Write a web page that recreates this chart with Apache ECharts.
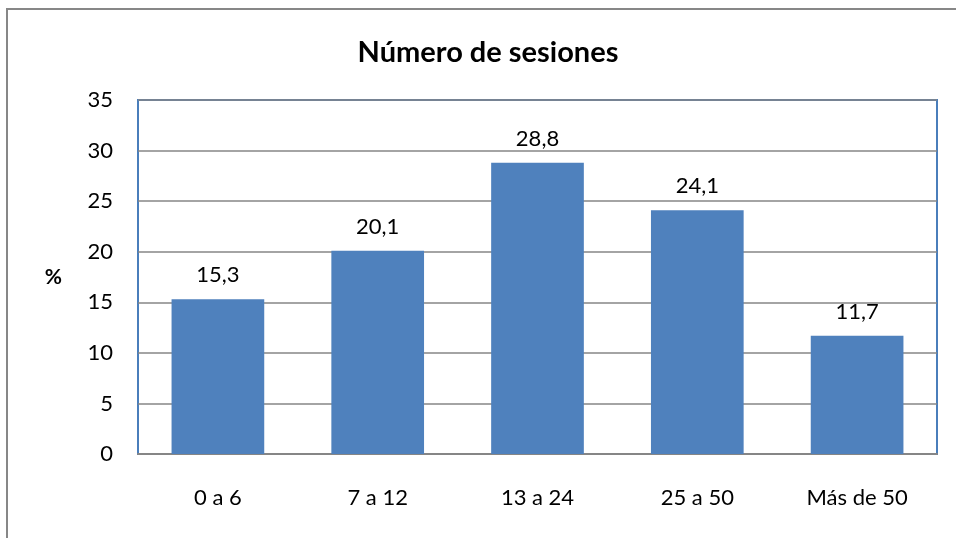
<!DOCTYPE html>
<html>
<head>
<meta charset="utf-8">
<script src="https://cdn.jsdelivr.net/npm/echarts@6/dist/echarts.min.js"></script>
<style>
html,body{margin:0;padding:0;background:#fff;}
#chart{width:956px;height:538px;}
</style>
</head>
<body>
<div id="chart"></div>
<script>
// datos del grafico
var titulo = 'Número de sesiones';
var categorias = ['0 a 6', '7 a 12', '13 a 24', '25 a 50', 'Más de 50'];
var valores = [15.3, 20.1, 28.8, 24.1, 11.7];
var yTicks = [0, 5, 10, 15, 20, 25, 30, 35];

var myChart = echarts.init(document.getElementById('chart'));
var fuente = 'Lato';
var option = {
    animation: false,
    title: {
        text: titulo,
        left: 483,
        top: 33,
        textAlign: 'center',
        textStyle: {fontFamily: fuente, fontSize: 29, fontWeight: 'bold', color: '#000'}
    },
    graphic: [{
        type: 'rect',
        shape: {x: 7, y: 9, width: 1000, height: 600},
        style: {fill: 'none', stroke: '#878787', lineWidth: 2},
        silent: true
    }],
    grid: {
        left: 138, right: 19, top: 100, bottom: 84,
        show: true,
        borderColor: '#4a7ebb',
        borderWidth: 2
    },
    xAxis: {
        type: 'category',
        data: categorias,
        axisTick: {show: false},
        axisLine: {lineStyle: {color: '#868686', width: 2}},
        axisLabel: {fontFamily: fuente, fontSize: 22, color: '#000', margin: 33}
    },
    yAxis: {
        type: 'value',
        min: yTicks[0],
        max: yTicks[yTicks.length - 1],
        interval: 5,
        name: '%',
        nameLocation: 'middle',
        nameRotate: 0,
        nameGap: 76,
        nameTextStyle: {fontFamily: fuente, fontSize: 21, fontWeight: 'bold', color: '#000', padding: [0, 0, 8, 0]},
        axisLine: {show: false},
        axisTick: {show: false},
        splitLine: {lineStyle: {color: '#868686', width: 1.5}},
        axisLabel: {fontFamily: fuente, fontSize: 22, color: '#000', margin: 25}
    },
    series: [{
        type: 'bar',
        data: valores,
        barWidth: '58%',
        itemStyle: {color: '#4f81bd'},
        label: {
            show: true,
            position: 'top',
            distance: 13,
            fontFamily: fuente,
            fontSize: 22,
            color: '#000',
            formatter: function (p) {
                return String(p.value).replace('.', ',');
            }
        }
    }]
};
myChart.setOption(option);
</script>
</body>
</html>
